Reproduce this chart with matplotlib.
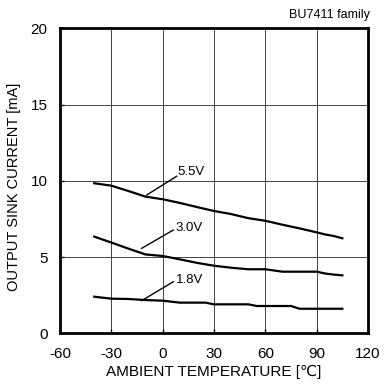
import matplotlib
matplotlib.use("Agg")
import matplotlib.pyplot as plt

plt.rcParams['font.family'] = ['Liberation Sans', 'DejaVu Sans']
plt.rcParams['axes.unicode_minus'] = False

# data
t_55 = [-40, -30, -20, -10, 0, 10, 20, 30, 40, 50, 60, 70, 80, 90, 95, 100, 105]
i_55 = [9.84, 9.68, 9.33, 8.96, 8.79, 8.55, 8.28, 8.02, 7.82, 7.55, 7.38, 7.12, 6.88, 6.62, 6.48, 6.38, 6.23]

t_30 = [-40, -30, -20, -10, 0, 10, 20, 30, 40, 50, 60, 70, 80, 90, 95, 100, 105]
i_30 = [6.34, 5.95, 5.55, 5.17, 5.07, 4.85, 4.62, 4.43, 4.30, 4.20, 4.20, 4.04, 4.04, 4.04, 3.92, 3.85, 3.80]

t_18 = [-40, -30, -20, -10, 0, 10, 25, 30, 50, 55, 75, 80, 105]
i_18 = [2.40, 2.27, 2.25, 2.18, 2.14, 2.01, 2.01, 1.90, 1.90, 1.79, 1.79, 1.61, 1.61]

labels = ['5.5V', '3.0V', '1.8V']
label_pos = [(8.5, 10.6), (7.5, 6.9), (7.5, 3.5)]
leader_from = [(-9.3, 9.07), (-12.3, 5.57), (-12.3, 2.14)]
leader_to = [(8.2, 10.3), (6.2, 6.77), (6.2, 3.38)]

xticks = [-60, -30, 0, 30, 60, 90, 120]
yticks = [0, 5, 10, 15, 20]

fig = plt.figure(figsize=(3.91, 3.87), dpi=100)
ax = fig.add_axes([60 / 391, 1 - 333.3 / 387, 308 / 391, 305 / 387])

for t, i in [(t_55, i_55), (t_30, i_30), (t_18, i_18)]:
    ax.plot(t, i, color='black', lw=1.6)

for lab, p, a, b in zip(labels, label_pos, leader_from, leader_to):
    ax.plot([a[0], b[0]], [a[1], b[1]], color='black', lw=1.0)
    ax.text(p[0], p[1], lab, fontsize=9.5, ha='left', va='center')

ax.set_xlim(-60, 120)
ax.set_ylim(0, 20)
ax.set_xticks(xticks)
ax.set_yticks(yticks)
ax.grid(True, color='#444444', lw=0.7)
ax.tick_params(direction='in', length=3, labelsize=11, width=1)
ax.tick_params(axis='x', pad=10)
ax.tick_params(axis='y', pad=9)
for s in ax.spines.values():
    s.set_linewidth(2)

ax.set_xlabel('AMBIENT TEMPERATURE [℃]', fontsize=11, labelpad=3)
ax.set_ylabel('OUTPUT SINK CURRENT [mA]', fontsize=10.5)
ax.yaxis.set_label_coords(-0.125, 0.48)
fig.text(370 / 391, 1 - 15 / 387, 'BU7411 family', fontsize=9, ha='right', va='center')

fig.savefig('out.png', dpi=100)
